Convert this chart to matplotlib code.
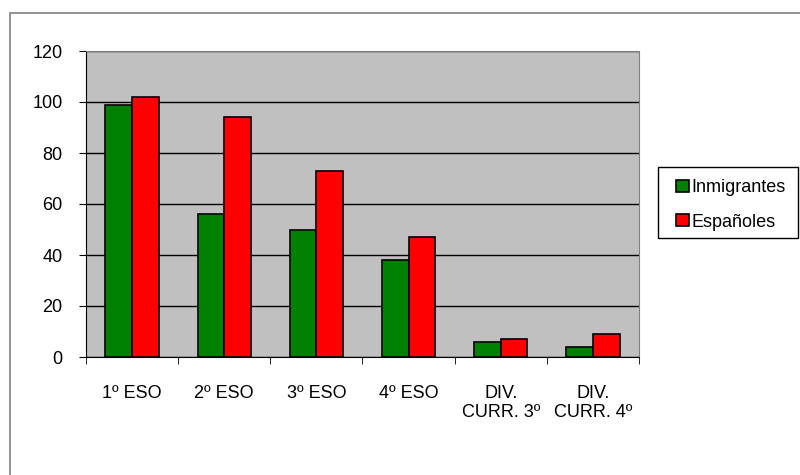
import matplotlib.pyplot as plt
import matplotlib.patches as mpatches
import numpy as np

plt.rcParams['font.family'] = ['Liberation Sans', 'DejaVu Sans']

cursos = ['1º ESO', '2º ESO', '3º ESO', '4º ESO', 'DIV.\nCURR. 3º', 'DIV.\nCURR. 4º']
inmigrantes = [99, 56, 50, 38, 6, 4]
espanoles = [102, 94, 73, 47, 7, 9]

W, H = 800, 475
fig = plt.figure(figsize=(8, 4.75), dpi=100)
# marco del gráfico (solo se ven los bordes de arriba y de la izquierda)
fig.patches.append(mpatches.Rectangle((10 / W, -0.1), 1.2, 1 - 13 / H + 0.1,
                                      transform=fig.transFigure, fill=False,
                                      ec='#808080', lw=1.2))

ax = fig.add_axes([86 / W, 118 / H, 553 / W, 306 / H])
ax.set_facecolor('#C0C0C0')

x = np.arange(len(cursos))
w = 0.29
ax.bar(x - w / 2, inmigrantes, w, color='#008000', edgecolor='black', lw=1.2,
       label='Inmigrantes', zorder=3)
ax.bar(x + w / 2, espanoles, w, color='#FF0000', edgecolor='black', lw=1.2,
       label='Españoles', zorder=3)

ax.set_xlim(-0.5, len(cursos) - 0.5)
ax.set_ylim(0, 120)
ax.set_yticks(range(0, 121, 20))
ax.yaxis.grid(True, color='black', lw=1)
ax.set_axisbelow(True)

ax.set_xticks(x)
ax.set_xticklabels(cursos, fontsize=13, linespacing=1.2)
ax.tick_params(axis='x', length=0, pad=20)
ax.set_xticks(np.arange(-0.5, len(cursos)), minor=True)
ax.tick_params(axis='x', which='minor', length=5, direction='out', color='black')
ax.tick_params(axis='y', length=5, direction='out', labelsize=13, pad=12)

for s in ['top', 'right']:
    ax.spines[s].set_color('#808080')
for s in ['left', 'bottom']:
    ax.spines[s].set_color('black')

# caja de la leyenda
fig.patches.append(mpatches.Rectangle((658 / W, 1 - 238 / H), 140 / W, 71 / H,
                                      transform=fig.transFigure, fill=False,
                                      ec='black', lw=1))
leg = fig.legend(loc='upper left', bbox_to_anchor=(671 / W, 1 - 174 / H),
                 fontsize=13, frameon=False,
                 handlelength=0.67, handleheight=0.67, handletextpad=0.15,
                 borderpad=0.3, labelspacing=0.95, borderaxespad=0)
for h in leg.legend_handles:
    h.set_linewidth(1.2)

fig.savefig('out.png', dpi=100)
